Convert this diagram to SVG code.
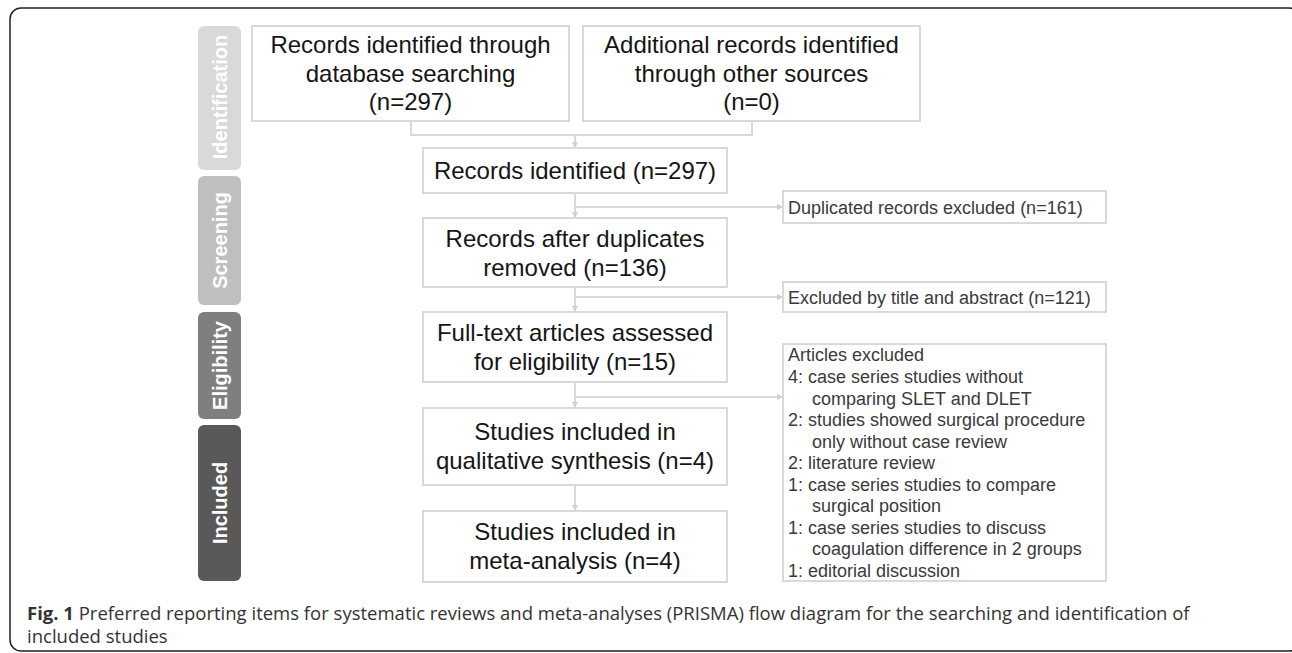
<svg xmlns="http://www.w3.org/2000/svg" width="1292" height="653" viewBox="0 0 1292 653">
<defs>
<style>
.frame{fill:#fff;stroke:#222;stroke-width:1.5}
.box{fill:#fff;stroke:#d9d9d9;stroke-width:2}
.main{font-family:"Liberation Sans",Arial,sans-serif;font-size:24px;fill:#151515;text-anchor:middle}
.side{font-family:"Liberation Sans",Arial,sans-serif;font-size:18px;fill:#3a3a3a}
.phase{font-family:"Liberation Sans",Arial,sans-serif;font-size:20px;font-weight:bold;fill:#fff;text-anchor:middle}
.conn{fill:none;stroke:#d9d9d9;stroke-width:2}
.cap{font-family:"Open Sans","Noto Sans",sans-serif;font-size:18.5px;fill:#333}
</style>
<marker id="arr" viewBox="0 0 6 6" refX="6" refY="3" markerWidth="3" markerHeight="3" orient="auto" markerUnits="strokeWidth">
<path d="M0,0 L6,3 L0,6 z" fill="#d0d0d0"/>
</marker>
</defs>
<rect class="frame" x="10" y="8" width="1290" height="643" rx="11"/>

<g id="phase-identification"><rect x="198" y="26" width="43" height="144" rx="6" fill="#d9d9d9"/><text class="phase" transform="translate(226.5,97) rotate(-90)">Identification</text></g>
<g id="phase-screening"><rect x="198" y="176" width="43" height="129" rx="6" fill="#bfbfbf"/><text class="phase" transform="translate(226.5,240.5) rotate(-90)">Screening</text></g>
<g id="phase-eligibility"><rect x="198" y="312" width="43" height="107" rx="6" fill="#7f7f7f"/><text class="phase" transform="translate(226.5,365.5) rotate(-90)">Eligibility</text></g>
<g id="phase-included"><rect x="198" y="425" width="43" height="156" rx="6" fill="#595959"/><text class="phase" transform="translate(226.5,503) rotate(-90)">Included</text></g>

<g id="connectors">
<path class="conn" d="M411,121 V135 H752 V121"/>
<path class="conn" d="M575,135 V148" marker-end="url(#arr)"/>
<path class="conn" d="M575,193 V218" marker-end="url(#arr)"/>
<path class="conn" d="M575,207 H783" marker-end="url(#arr)"/>
<path class="conn" d="M575,287 V312" marker-end="url(#arr)"/>
<path class="conn" d="M575,297 H783" marker-end="url(#arr)"/>
<path class="conn" d="M575,382 V408" marker-end="url(#arr)"/>
<path class="conn" d="M575,397 H783" marker-end="url(#arr)"/>
<path class="conn" d="M575,485 V511" marker-end="url(#arr)"/>
</g>

<g id="n-db"><rect class="box" x="252" y="26" width="317" height="95"/><text class="main"><tspan x="410.5" y="53">Records identified through</tspan><tspan x="410.5" y="81.5">database searching</tspan><tspan x="410.5" y="110">(n=297)</tspan></text></g>
<g id="n-other"><rect class="box" x="583" y="26" width="337" height="95"/><text class="main"><tspan x="751.5" y="53">Additional records identified</tspan><tspan x="751.5" y="81.5">through other sources</tspan><tspan x="751.5" y="110">(n=0)</tspan></text></g>
<g id="n-identified"><rect class="box" x="423" y="148" width="304" height="45"/><text class="main" x="575" y="179">Records identified (n=297)</text></g>
<g id="n-dup"><rect class="box" x="783" y="191" width="323" height="32"/><text class="side" x="788" y="213.5">Duplicated records excluded (n=161)</text></g>
<g id="n-after"><rect class="box" x="423" y="218" width="304" height="69"/><text class="main"><tspan x="575" y="247">Records after duplicates</tspan><tspan x="575" y="275.5">removed (n=136)</tspan></text></g>
<g id="n-title"><rect class="box" x="783" y="282" width="323" height="30"/><text class="side" x="788" y="303.5">Excluded by title and abstract (n=121)</text></g>
<g id="n-full"><rect class="box" x="423" y="312" width="304" height="70"/><text class="main"><tspan x="575" y="340.5">Full-text articles assessed</tspan><tspan x="575" y="369.5">for eligibility (n=15)</tspan></text></g>
<g id="n-excl"><rect class="box" x="783" y="344" width="323" height="237"/><text class="side"><tspan x="788" y="361">Articles excluded</tspan><tspan x="788" y="383">4: case series studies without</tspan><tspan x="812" y="404.5">comparing SLET and DLET</tspan><tspan x="788" y="426">2: studies showed surgical procedure</tspan><tspan x="812" y="447.5">only without case review</tspan><tspan x="788" y="469">2: literature review</tspan><tspan x="788" y="490.5">1: case series studies to compare</tspan><tspan x="812" y="512">surgical position</tspan><tspan x="788" y="533.5">1: case series studies to discuss</tspan><tspan x="812" y="555">coagulation difference in 2 groups</tspan><tspan x="788" y="576.5">1: editorial discussion</tspan></text></g>
<g id="n-qual"><rect class="box" x="423" y="408" width="304" height="77"/><text class="main"><tspan x="575" y="440">Studies included in</tspan><tspan x="575" y="469">qualitative synthesis (n=4)</tspan></text></g>
<g id="n-meta"><rect class="box" x="423" y="511" width="304" height="71"/><text class="main"><tspan x="575" y="540">Studies included in</tspan><tspan x="575" y="569">meta-analysis (n=4)</tspan></text></g>

<text class="cap"><tspan x="27" y="620"><tspan font-weight="bold">Fig. 1</tspan> Preferred reporting items for systematic reviews and meta-analyses (PRISMA) flow diagram for the searching and identification of</tspan><tspan x="27" y="643">included studies</tspan></text>
</svg>
